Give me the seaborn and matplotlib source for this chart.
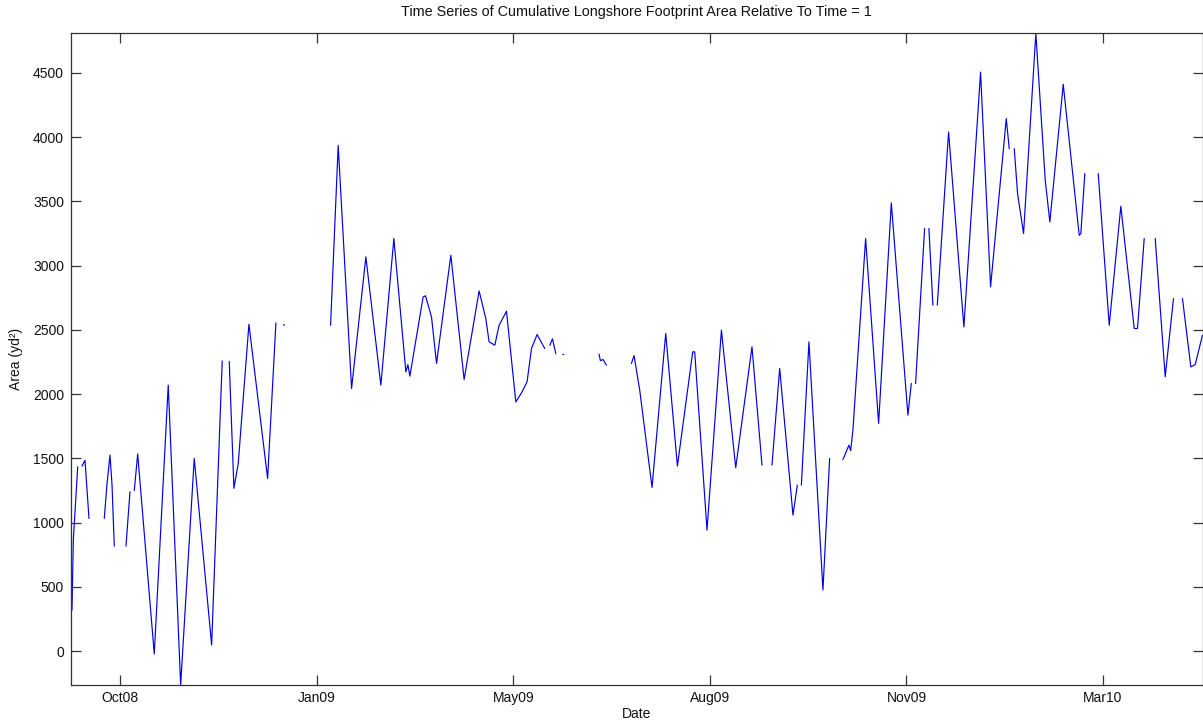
import numpy as np
import pandas as pd
import matplotlib
matplotlib.use("Agg")
import matplotlib.pyplot as plt
import matplotlib.dates as mdates
import seaborn as sns

# Survey record: days since 25 Sep 2008 and cumulative footprint area (yd^2).
# NaN marks a break in the record.
nan = np.nan
day = [
    0.51, 1.17, 3.41, nan,
    5.59, 7.12, 9.15, nan,
    16.93, 18.31, 19.83, 20.85, 22.02, nan,
    27.97, 30.0, nan,
    32.19, 33.92, 42.36, 49.47, 55.78, 62.69, 71.54, 76.93, nan,
    80.49, 82.88, 85.07, 90.51, 100.02, 104.24, nan,
    108.05, 108.56, nan,
    132.05, 135.92, 142.73, 150.0, 157.63, 164.24, 170.34, 171.36, 172.38,
    179.13, 180.35, 183.4, 185.95, 193.22, 199.98, 207.61, 211.02, 212.69,
    215.59, 217.78, 221.54, 226.27, 229.17, 232.01, 234.25, 237.1, 241.01, nan,
    243.56, 244.93, 246.61, nan,
    250.17, 250.68, nan,
    268.62, 269.33, 270.66, 272.39, nan,
    285.1, 286.42, 289.32, 295.57, 302.54, 308.49, 316.27, 317.29, 323.54,
    330.87, 338.14, 346.42, 351.51, nan,
    356.59, 360.51, 367.27, 369.5, nan,
    371.54, 375.4, 382.52, 385.93, nan,
    392.69, 395.74, 396.6, 397.77, 404.23, 410.84, 417.3, 425.74, 427.47, nan,
    429.65, 434.23, nan,
    436.42, 438.45, nan,
    440.69, 446.43, 454.21, 462.7, 467.79, 475.77, 477.3, nan,
    479.84, 481.52, 484.57, 490.82, 495.6, 497.94, 504.76, 512.89, 513.71, 515.74, nan,
    522.55, 528.15, 534.05, 540.86, 542.54, 545.95, nan,
    551.54, 556.63, 560.85, nan,
    565.42, 569.65, 571.88, 575.59,
]
area = [
    320, 865, 1435, nan,
    1440, 1485, 1033, nan,
    1033, 1300, 1526, 1300, 818, nan,
    818, 1240, nan,
    1250, 1535, -22, 2070, -263, 1500, 48, 2259, nan,
    2255, 1267, 1461, 2544, 1344, 2554, nan,
    2540, 2536, nan,
    2536, 3936, 2044, 3068, 2070, 3211, 2173, 2230, 2140,
    2757, 2765, 2600, 2239, 3081, 2114, 2803, 2588, 2407,
    2381, 2536, 2645, 1940, 2010, 2096, 2355, 2464, 2355, nan,
    2380, 2430, 2316, nan,
    2310, 2308, nan,
    2311, 2260, 2270, 2225, nan,
    2239, 2300, 2031, 1274, 2472, 1440, 2329, 2329, 942,
    2498, 1427, 2368, 1448, nan,
    1448, 2200, 1059, 1292, nan,
    1292, 2407, 476, 1500, nan,
    1492, 1603, 1560, 1720, 3211, 1772, 3488, 1837, 2083, nan,
    2083, 3289, nan,
    3289, 2692, nan,
    2692, 4040, 2523, 4506, 2834, 4144, 3910, nan,
    3910, 3560, 3250, 4807, 3664, 3340, 4411, 3236, 3250, 3716, nan,
    3716, 2536, 3462, 2511, 2511, 3211, nan,
    3211, 2135, 2744, nan,
    2744, 2212, 2230, 2459,
]
start_date = "2008-09-25"
tick_start = "2008-10-20"
tick_step_days = 100
n_ticks = 6
y_ticks = [0, 500, 1000, 1500, 2000, 2500, 3000, 3500, 4000, 4500]

df = pd.DataFrame({"day": day, "area": area})
df["segment"] = df["area"].isna().cumsum()
df = df.dropna().reset_index(drop=True)
df["date"] = pd.Timestamp(start_date) + pd.to_timedelta(df["day"], unit="D")

sns.set_theme(style="white")
plt.rcParams["font.family"] = ["Liberation Sans", "DejaVu Sans"]
plt.rcParams["font.size"] = 10

W, H = 1203, 728
fig = plt.figure(figsize=(W / 100, H / 100), dpi=100)
ax = fig.add_axes([71 / W, 1 - 685 / H, (1202.5 - 71) / W, (685 - 33) / H])

sns.lineplot(data=df, x="date", y="area", units="segment", estimator=None,
             sort=False, color="#0000e6", linewidth=0.85, ax=ax, legend=False)

ax.set_xlim(pd.Timestamp(start_date), pd.Timestamp(start_date) + pd.Timedelta(days=575.6))
ax.set_ylim(-263, 4810)

tick_dates = pd.date_range(tick_start, periods=n_ticks, freq=f"{tick_step_days}D")
ax.set_xticks(tick_dates)
ax.xaxis.set_major_formatter(mdates.DateFormatter("%b%y"))
ax.set_yticks(y_ticks)

for s in ax.spines.values():
    s.set_visible(True)
    s.set_color("#333333")
    s.set_linewidth(0.9)

ax.tick_params(axis="both", which="major", direction="in", length=7, width=0.9,
               color="#333333", labelsize=10, labelcolor="#111111",
               top=True, right=True, bottom=True, left=True)
ax.tick_params(axis="x", pad=4)
ax.tick_params(axis="y", pad=5)

ax.set_title("Time Series of Cumulative Longshore Footprint Area Relative To Time = 1",
             fontsize=10.4, color="#111111", pad=12)
ax.set_xlabel("Date", fontsize=10, color="#111111", labelpad=2)
ax.set_ylabel("Area (yd²)", fontsize=10, color="#111111", labelpad=7)
ax.grid(False)
ax.set_facecolor("white")

fig.savefig("out.png", dpi=100, facecolor="white")
